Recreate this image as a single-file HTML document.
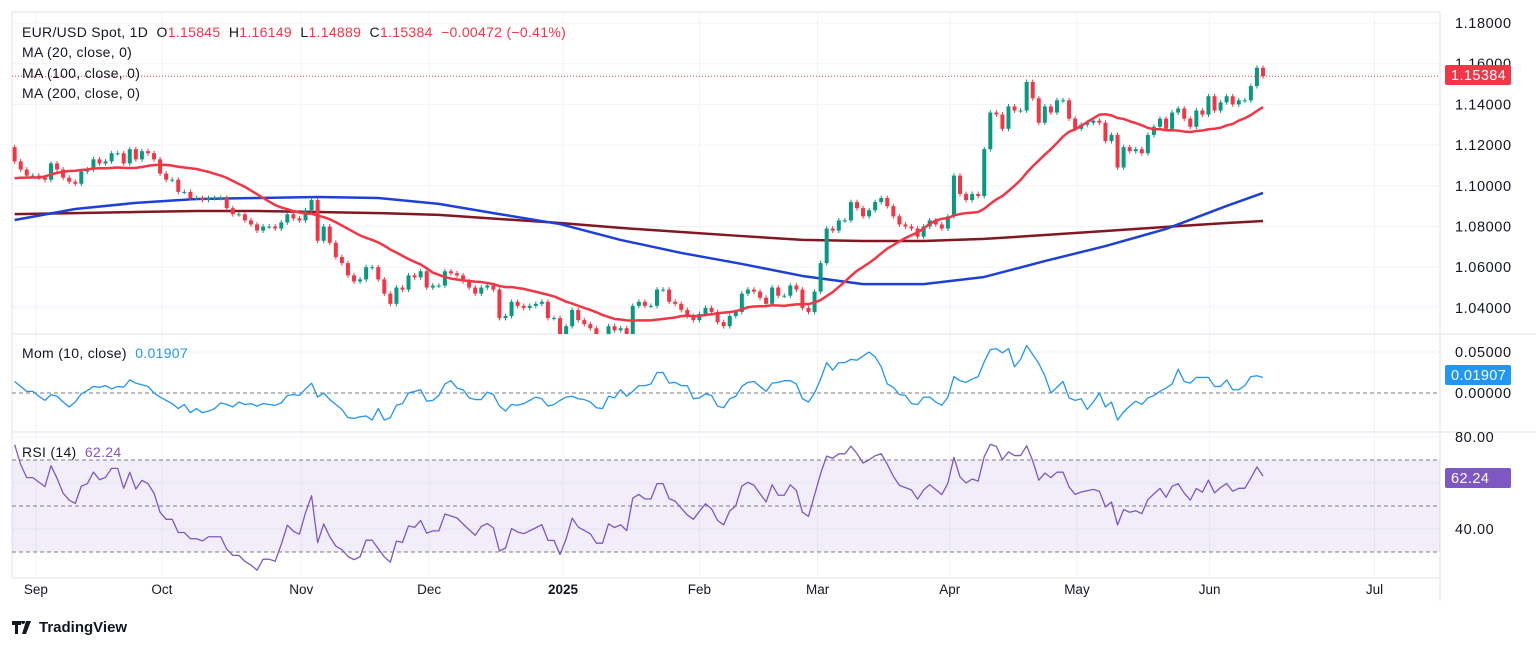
<!DOCTYPE html>
<html><head><meta charset="utf-8"><style>
body{margin:0;background:#fff;}
svg{display:block;font-family:"Liberation Sans",sans-serif;}
</style></head><body>
<svg id="c" width="1536" height="649" viewBox="0 0 1536 649"></svg>
<script>
const priorCloses=[1.092,1.092,1.092,1.093,1.095,1.098,1.100,1.103,1.103,1.108,1.112,1.113,1.112,1.115,1.119];
const closes=[
1.112,1.108,1.105,
1.105,1.104,1.103,1.111,1.108,1.104,1.102,1.101,1.107,1.108,1.113,1.111,1.112,1.116,1.116,1.111,1.118,1.113,1.117,1.116,1.113,
1.106,1.103,1.103,1.097,1.097,1.094,1.094,1.093,1.094,1.094,1.094,1.089,1.086,1.086,1.083,1.081,1.078,1.080,1.080,1.079,1.082,1.086,1.084,
1.083,1.088,1.093,1.073,1.080,1.072,1.065,1.062,1.056,1.053,1.054,1.060,1.060,1.054,1.047,1.042,1.050,1.049,1.056,1.055,1.058,
1.050,1.051,1.051,1.058,1.057,1.056,1.053,1.050,1.047,1.050,1.051,1.049,1.035,1.036,1.043,1.041,1.040,1.041,1.042,1.043,1.035,1.035,
1.026,1.031,1.039,1.034,1.032,1.030,1.024,1.024,1.031,1.029,1.030,1.027,1.041,1.043,1.041,1.041,1.049,1.049,1.043,1.042,1.039,1.036,
1.034,1.037,1.040,1.038,1.033,1.031,1.036,1.038,1.047,1.049,1.048,1.045,1.042,1.050,1.046,1.046,1.051,1.049,1.040,1.038,
1.048,1.062,1.079,1.078,1.083,1.083,1.092,1.089,1.085,1.088,1.092,1.094,1.090,1.085,1.081,1.080,1.079,1.075,1.080,1.083,1.081,
1.079,1.085,1.105,1.096,1.093,1.096,1.095,1.118,1.136,1.135,1.128,1.139,1.137,1.137,1.151,1.143,1.131,1.139,1.136,1.142,1.142,1.133,
1.128,1.130,1.131,1.132,1.131,1.122,1.125,1.109,1.119,1.117,1.118,1.116,1.125,1.129,1.133,1.128,1.136,1.138,1.133,1.129,1.137,1.135,
1.144,1.137,1.141,1.144,1.140,1.142,1.142,1.149,1.158,1.15384];
const ma100Idx=[0,10,20,30,40,50,60,70,80,90,100,110,120,130,140,150,160,170,180,190,200,206];
const ma100Vals=[1.0832,1.0886,1.0916,1.0935,1.0940,1.0945,1.0940,1.0911,1.0861,1.0812,1.0734,1.0670,1.0616,1.0557,1.0517,1.0517,1.0552,1.0630,1.0704,1.0788,1.0901,1.0965];
const ma200Vals=[1.0861,1.0866,1.0871,1.0876,1.0876,1.0871,1.0866,1.0857,1.0837,1.0817,1.0793,1.0773,1.0753,1.0734,1.0729,1.0729,1.0739,1.0758,1.0778,1.0798,1.0817,1.0827];
const priceTicks=[1.18,1.16,1.14,1.12,1.10,1.08,1.06,1.04];
const monthLabels=["Sep","Oct","Nov","Dec","2025","Feb","Mar","Apr","May","Jun","Jul"];
const monthIdx=[3.5,24.3,47.3,68.4,90.5,113,132.5,154.3,175.3,197.2,224.4];

const S="http://www.w3.org/2000/svg";
const svg=document.getElementById('c');
function el(t,a,p){const e=document.createElementNS(S,t);for(const k in a)e.setAttribute(k,a[k]);(p||svg).appendChild(e);return e;}
const N=closes.length, STEP=6.06, XEND=1263;
const xb=i=>XEND-(N-1-i)*STEP;
const py=p=>23+(1.18-p)*2035;
const my=m=>393-m*820;
const ry=r=>460+(70-r)*2.3;
const all=priorCloses.concat(closes), P=priorCloses.length;

const g=el('g',{});


priceTicks.forEach(t=>el('line',{x1:12,x2:1440,y1:py(t),y2:py(t),stroke:'#f0f3fa'},g));
[306,352].forEach(y=>el('line',{x1:12,x2:1440,y1:y,y2:y,stroke:'#f0f3fa'},g));
[437,483,529].forEach(y=>el('line',{x1:12,x2:1440,y1:y,y2:y,stroke:'#f0f3fa'},g));
monthIdx.forEach(i=>{const x=xb(i);el('line',{x1:x,x2:x,y1:12,y2:578,stroke:'#f0f3fa'},g);});
el('rect',{x:12,y:12,width:1428,height:566,fill:'none',stroke:'#e0e3eb'},g);
el('line',{x1:12,x2:1536,y1:334,y2:334,stroke:'#e0e3eb'},g);
el('line',{x1:12,x2:1536,y1:432,y2:432,stroke:'#e0e3eb'},g);
el('line',{x1:1440,x2:1440,y1:12,y2:601,stroke:'#e0e3eb'},g);

const cp=el('clipPath',{id:'mc'});el('rect',{x:12,y:12,width:1428,height:322},cp);
const main=el('g',{'clip-path':'url(#mc)'});



function poly(pts,color,w,parent,name){const e=el('polyline',{points:pts.map(p=>p.join(',')).join(' '),fill:'none',stroke:color,'stroke-width':w,'stroke-linejoin':'round'},parent);return e;}
poly(ma100Idx.map((i,k)=>[xb(i),py(ma200Vals[k])]),'#801922',2.5,main,'ma200-line');
poly(ma100Idx.map((i,k)=>[xb(i),py(ma100Vals[k])]),'#1e40d6',2.5,main,'ma100-line');

for(let i=0;i<N;i++){
  const o=all[P+i-1],c=all[P+i],up=c>=o,col=up?'#089981':'#f23645';
  const hi=Math.max(o,c)+0.0012,lo=Math.min(o,c)-0.0012,x=xb(i);
  const cg=el('g',{},main);
  
  
  el('line',{x1:x,x2:x,y1:py(hi),y2:py(lo),stroke:col,'stroke-width':1},cg);
  const y1=py(Math.max(o,c)),y2=py(Math.min(o,c));
  el('rect',{x:x-2,y:y1,width:4,height:Math.max(1,y2-y1),fill:col},cg);
}
const ma20=[];for(let i=0;i<N;i++){const k=P+i;let s=0,n=0;for(let j=Math.max(0,k-19);j<=k;j++){s+=all[j];n++;}ma20.push([xb(i),py(s/n)]);}
poly(ma20,'#f23645',2.5,main,'ma20-line');
const cl=el('line',{x1:12,x2:1440,y1:py(closes[N-1]),y2:py(closes[N-1]),stroke:'#f23645','stroke-dasharray':'1 2'});


el('line',{x1:12,x2:1440,y1:my(0),y2:my(0),stroke:'#787b86','stroke-dasharray':'4 3'});
const mom=[];for(let i=0;i<N;i++){const k=P+i;if(k-10>=0)mom.push([xb(i),my(all[k]-all[k-10])]);}
poly(mom,'#2196f3',1.3,svg,'momentum-line');

const band=el('rect',{x:12,y:ry(70),width:1428,height:ry(30)-ry(70),fill:'#7e57c2','fill-opacity':0.1});

[70,50,30].forEach(v=>el('line',{x1:12,x2:1440,y1:ry(v),y2:ry(v),stroke:'#787b86','stroke-dasharray':'4 3'}));
let ag=0,al=0;const rsi=[];
for(let k=1;k<all.length;k++){const d=all[k]-all[k-1],gn=Math.max(d,0),ls=Math.max(-d,0);
  if(k<=14){ag+=gn/14;al+=ls/14;}else{ag=(ag*13+gn)/14;al=(al*13+ls)/14;}
  const i=k-P;if(i>=0){const r=al===0?100:100-100/(1+ag/al);rsi.push([xb(i),ry(r)]);}}
poly(rsi,'#7e57c2',1.3,svg,'rsi-line');

function txt(s,x,y,a,name){const e=el('text',Object.assign({x:x,y:y,'font-size':14.5,fill:'#131722','letter-spacing':0.6},a||{}));e.textContent=s;return e;}
priceTicks.forEach(t=>txt(t.toFixed(5),1455,py(t)+5,{},'price-tick'));
txt('0.05000',1455,my(0.05)+5,{},'mom-tick');txt('0.00000',1455,my(0)+5,{},'mom-tick');
txt('80.00',1455,ry(80)+5,{},'rsi-tick');txt('40.00',1455,ry(40)+5,{},'rsi-tick');
monthLabels.forEach((m,k)=>txt(m,xb(monthIdx[k]),594,{'text-anchor':'middle','font-size':13.5,'letter-spacing':0,'font-weight':m==='2025'?'bold':'normal'},'time-label'));

function badge(s,y,col,name){const r=el('rect',{x:1445,y:y-10,width:66,height:20,rx:2,fill:col});txt(s,1451,y+5,{fill:'#fff','font-size':14.5,'letter-spacing':0.4},name+'-text');}
badge('1.15384',75,'#f23645','price-badge');
badge('0.01907',375,'#2196f3','mom-badge');
badge('62.24',478,'#7e57c2','rsi-badge');
</script>
<div style="position:absolute;left:22px;top:22px;font:14px 'Liberation Sans',sans-serif;letter-spacing:0.3px;color:#131722;line-height:20.3px">
<div>EUR/USD Spot, 1D&nbsp; O<span style="color:#f23645">1.15845</span>&nbsp; H<span style="color:#f23645">1.16149</span>&nbsp; L<span style="color:#f23645">1.14889</span>&nbsp; C<span style="color:#f23645">1.15384</span>&nbsp; <span style="color:#f23645">−0.00472 (−0.41%)</span></div>
<div>MA (20, close, 0)</div>
<div>MA (100, close, 0)</div>
<div>MA (200, close, 0)</div>
</div>
<div style="position:absolute;left:22px;top:345px;font:14px 'Liberation Sans',sans-serif;letter-spacing:0.3px;color:#131722">Mom (10, close)&nbsp; <span style="color:#2196f3">0.01907</span></div>
<div style="position:absolute;left:22px;top:444px;font:14px 'Liberation Sans',sans-serif;letter-spacing:0.3px;color:#131722">RSI (14)&nbsp; <span style="color:#7e57c2">62.24</span></div>
<div style="position:absolute;left:12px;top:619px;font:bold 15px 'Liberation Sans',sans-serif;color:#131722;display:flex;align-items:center">
<svg width="24" height="14" viewBox="0 0 24 14"><path d="M0 0h9v4H6v9H3V4H0z M11 3a2 2 0 1 1 0.01 0z M14 0h5l-5 13h-4z" fill="#131722"/></svg><span style="margin-left:3px">TradingView</span></div>
</body></html>
